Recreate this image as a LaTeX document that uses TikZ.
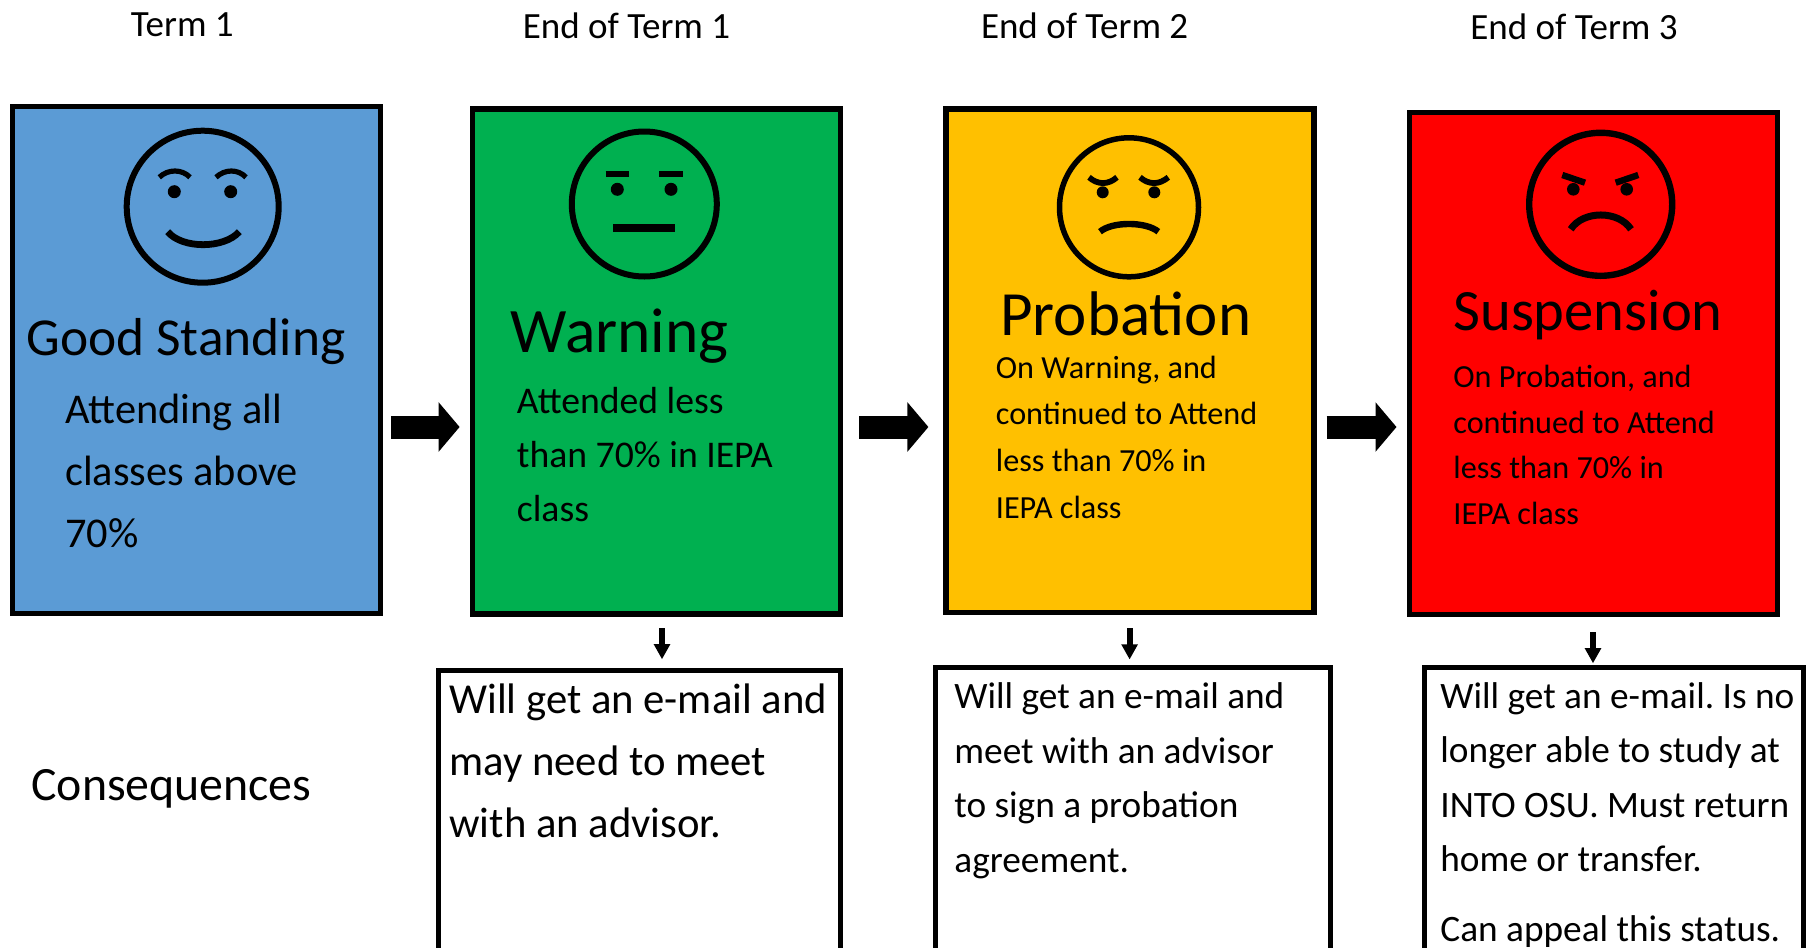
\documentclass[tikz,border=0pt]{standalone}
\usepackage{fontspec}
\setmainfont{Carlito}
\usetikzlibrary{arrows.meta}

\definecolor{blue1}{HTML}{5B9BD5}
\definecolor{green1}{HTML}{00B050}
\definecolor{yellow1}{HTML}{FFC000}
\definecolor{red1}{HTML}{FF0000}

\tikzset{
    statebox/.style={draw, anchor=north west, line width=2.75pt, inner sep=0pt, minimum width=184pt},
    consbox/.style={draw, anchor=north west, line width=2.5pt, inner sep=0pt, minimum height=170pt},
    boxtext/.style={anchor=base west, inner sep=0pt, align=left},
    bigarrow/.style={-{Triangle[length=10.5pt, width=24.2pt]}, line width=11.5pt},
    smallarrow/.style={-{Triangle[length=7.6pt, width=7.8pt]}, line width=3pt},
}
\newcommand{\fsize}[2]{\fontsize{#1pt}{#2pt}\selectfont\frenchspacing}

\begin{document}
\begin{tikzpicture}[x=0.5pt, y=-0.5pt]
    \useasboundingbox (0,0) rectangle (1811,948);
    \coordinate (arrowrow) at (0,427);
    \coordinate (d1) at (662,0);
    \coordinate (d2) at (1129.6,0);
    \coordinate (d3) at (1593,0);

    % term headings
    \node[boxtext, font=\fsize{18.5}{22}] (term1) at (130.5,36) {Term 1};
    \node[boxtext, font=\fsize{18.5}{22}] (term2) at (522.5,38) {End of Term 1};
    \node[boxtext, font=\fsize{18.5}{22}] (term3) at (980.6,38) {End of Term 2};
    \node[boxtext, font=\fsize{18.5}{22}] (term4) at (1470,39) {End of Term 3};

    % status boxes
    \node[statebox, fill=blue1, minimum height=253.5pt] (good) at (9.5,103.5) {};
    \node[statebox, fill=green1, minimum height=252.6pt] (warning) at (469.5,106) {};
    \node[statebox, fill=yellow1, minimum height=251.8pt] (probation) at (943,106) {};
    \node[statebox, fill=red1, minimum height=251pt] (suspension) at (1406.5,109.5) {};

    % consequence boxes
    \node[consbox, minimum width=201.25pt] (cons1) at (435.5,667.7) {};
    \node[consbox, minimum width=197.25pt] (cons2) at (933,665) {};
    \node[consbox, minimum width=189.5pt] (cons3) at (1422,665) {};

    % good face
    \draw[line width=3pt] (202.7,206.7) circle (76);
    \fill (174.3,191.7) circle (6.5);
    \fill (230.7,191.7) circle (6.5);
    \draw[line width=2.6pt] (159.3,177.3) .. controls (168,168.9) and (182,168.9) .. (190,177.3);
    \draw[line width=2.6pt] (216,177.3) .. controls (225,168.9) and (238,168.9) .. (246,177.3);
    \draw[line width=3.4pt] (167.7,231.7) .. controls (182,249) and (224,249) .. (239.3,231.7);

    % warning face
    \draw[line width=3pt] (644.3,204) circle (72.5);
    \fill (617.3,189.3) circle (6.5);
    \fill (671,189.3) circle (6.5);
    \draw[line width=3.3pt] (605.7,174) -- (629,174);
    \draw[line width=3.3pt] (659,174) -- (682.7,174);
    \draw[line width=4pt] (613.3,228.3) -- (675,228.3);

    % probation face
    \draw[line width=2.75pt] (1129,207.3) circle (69.5);
    \fill (1102.7,192.3) circle (6);
    \fill (1154.3,192.3) circle (6);
    \draw[line width=2.9pt] (1089,177.3) .. controls (1098,185) and (1108,185) .. (1117,177.3);
    \draw[line width=2.9pt] (1140,177.3) .. controls (1149,185) and (1159,185) .. (1168.3,177.3);
    \draw[line width=3.2pt] (1100,231.7) .. controls (1112,221.4) and (1146,221.4) .. (1158.3,231.7);

    % suspension face
    \draw[line width=3.2pt] (1600.7,204.3) circle (71.5);
    \fill (1573.3,189.3) circle (6.3);
    \fill (1626.7,189.3) circle (6.3);
    \draw[line width=3.2pt] (1562.3,175) -- (1585,182.7);
    \draw[line width=3.2pt] (1638.3,175) -- (1615.7,182.7);
    \draw[line width=3.5pt] (1570.7,229.3) .. controls (1583,210.2) and (1618.6,210.2) .. (1631,229.3);

    % box texts
    \node[boxtext, font=\fsize{26.7}{30}] (goodtitle) at (26,355.5) {Good Standing};
    \node[boxtext, font=\fsize{21.2}{30.9}] (goodtext) at (64.7,547) {Attending all\\classes above\\70\%};
    \node[boxtext, font=\fsize{31.7}{36}] (warningtitle) at (510.5,352) {Warning};
    \node[boxtext, font=\fsize{18.85}{27}] (warningtext) at (516.5,521.5) {Attended less\\than 70\% in IEPA\\class};
    \node[boxtext, font=\fsize{31.5}{36}] (probationtitle) at (1000,335.5) {Probation};
    \node[boxtext, font=\fsize{16.1}{23.3}] (probationtext) at (995.5,518) {On Warning, and\\continued to Attend\\less than 70\% in\\IEPA class};
    \node[boxtext, font=\fsize{29.3}{33}] (suspensiontitle) at (1453,330.5) {Suspension};
    \node[boxtext, font=\fsize{16.1}{22.7}] (suspensiontext) at (1453,524) {On Probation, and\\continued to Attend\\less than 70\% in\\IEPA class};

    \node[boxtext, font=\fsize{23.9}{28}] (conslabel) at (31,800) {Consequences};
    \node[boxtext, font=\fsize{21.35}{30.9}] (cons1text) at (449,837.5) {Will get an e-mail and\\may need to meet\\with an advisor.};
    \node[boxtext, font=\fsize{18.65}{27.3}] (cons2text) at (954,872.5) {Will get an e-mail and\\meet with an advisor\\to sign a probation\\agreement.};
    \node[boxtext, font=\fsize{18.65}{27.3}] (cons3text) at (1440,941.5) {Will get an e-mail. Is no\\longer able to study at\\INTO OSU. Must return\\home or transfer.\\[7.5pt]Can appeal this status.};

    % arrows
    \draw[bigarrow, shorten <=4pt, shorten >=4.95pt] (good.east |- arrowrow) -- (warning.west |- arrowrow);
    \draw[bigarrow, shorten <=8pt, shorten >=7.3pt] (warning.east |- arrowrow) -- (probation.west |- arrowrow);
    \draw[bigarrow, shorten <=5pt, shorten >=5pt] (probation.east |- arrowrow) -- (suspension.west |- arrowrow);
    \draw[smallarrow, shorten <=5.8pt, shorten >=4.2pt] (warning.south -| d1) -- (cons1.north -| d1);
    \draw[smallarrow, shorten <=6.5pt, shorten >=2.75pt] (probation.south -| d2) -- (cons2.north -| d2);
    \draw[smallarrow, shorten <=7.6pt, shorten >=0.85pt] (suspension.south -| d3) -- (cons3.north -| d3);
\end{tikzpicture}
\end{document}
